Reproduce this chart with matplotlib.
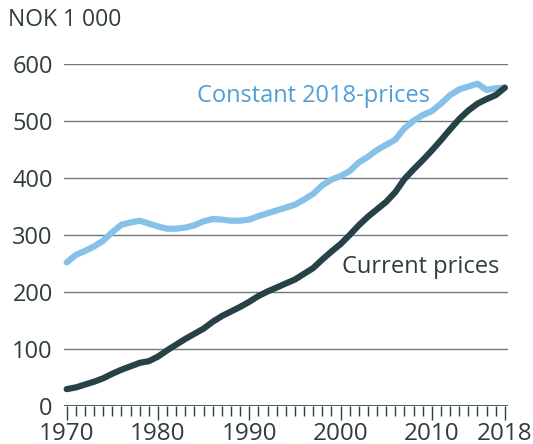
import numpy as np
import matplotlib.pyplot as plt
from matplotlib.ticker import MultipleLocator

plt.rcParams['font.family'] = ['Open Sans', 'DejaVu Sans']

years = list(range(1970, 2019))
current = [30, 33, 38, 43, 49, 57, 64, 70, 76, 79,
           87, 98, 108, 118, 127, 136, 148, 158, 166, 174,
           183, 193, 201, 208, 215, 222, 232, 242, 257, 271,
           284, 300, 317, 332, 345, 358, 375, 398, 415, 431,
           448, 466, 485, 503, 518, 530, 538, 545, 558]
constant = [252, 265, 272, 280, 290, 305, 318, 322, 325, 320,
            315, 311, 311, 313, 317, 324, 328, 327, 325, 325,
            327, 333, 338, 343, 348, 353, 362, 372, 387, 397,
            403, 412, 427, 437, 449, 458, 467, 487, 500, 510,
            517, 530, 545, 555, 560, 565, 554, 557, 558]
yticks = [0, 100, 200, 300, 400, 500, 600]
xticks = [1970, 1980, 1990, 2000, 2010, 2018]

dark = '#274247'
light = '#86c1e8'
txt = '#2f3d40'

fig = plt.figure(figsize=(5.33, 4.44), dpi=100)
ax = fig.add_axes([0.12, 0.085, 0.834, 0.7715])

for y in yticks[1:]:
    ax.axhline(y, color='#6f7a7c', lw=1, zorder=1)
ax.axhline(0, color=dark, lw=1.2, zorder=1)

ax.plot(years, constant, color=light, lw=4.5, solid_capstyle='round', clip_on=False, zorder=3)
ax.plot(years, current, color=dark, lw=4.5, solid_capstyle='round', clip_on=False, zorder=4)

ax.text(2009.8, 543, 'Constant 2018-prices', color='#4f9ed6', fontsize=17, ha='right', va='center')
ax.text(2017.4, 244, 'Current prices', color=txt, fontsize=17, ha='right', va='center')

ax.set_xlim(1969.7, 2018.4)
ax.set_ylim(0, 600)
for s in ax.spines.values():
    s.set_visible(False)

ax.set_yticks(yticks)
ax.tick_params(axis='y', length=0, pad=8, labelsize=17, labelcolor=txt)
ax.set_xticks(xticks)
ax.xaxis.set_minor_locator(MultipleLocator(1))
ax.tick_params(axis='x', which='major', length=10, width=1, color=dark, labelsize=17.5, labelcolor=txt, pad=1)
ax.tick_params(axis='x', which='minor', length=7, width=1, color=dark)

fig.text(0.015, 0.955, 'NOK 1 000', color=txt, fontsize=16.5, ha='left', va='center')

fig.savefig('out.png', dpi=100)
